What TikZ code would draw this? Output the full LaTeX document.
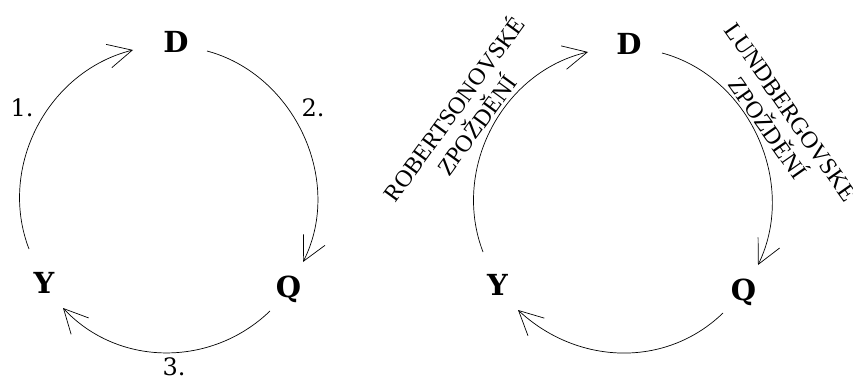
\documentclass[tikz,border=0pt]{standalone}
\usepackage{fontspec}
\setmainfont{DejaVu Serif}
\newfontfamily\lblfont{Liberation Serif}
\usetikzlibrary{arrows.meta}
\begin{document}
\begin{tikzpicture}[x=1pt,y=1pt,
  arr/.style={line width=0.7pt, -{Straight Barb[length=24pt,width=24pt,line width=0.7pt]}},
  letr/.style={font=\fontsize{29}{29}\selectfont\bfseries, anchor=base, inner sep=0pt},
  num/.style={font=\fontsize{24}{24}\selectfont, anchor=base, inner sep=0pt},
  rot/.style={font=\fontsize{24}{28}\selectfont\lblfont, align=center, inner sep=0pt}]
\useasboundingbox (0,0) rectangle (853,378);
% left cycle
\node[letr] (D1) at (176,325) {D};
\node[letr] (Y1) at (44,85) {Y};
\node[letr] (Q1) at (288.5,81) {Q};
\node[num] (n1) at (22,261) {1.};
\node[num] (n2) at (313,261) {2.};
\node[num] (n3) at (174,2.5) {3.};
\coordinate (a1s) at (29,129);
\coordinate (a1e) at (133,328);
\coordinate (a2s) at (207,327);
\coordinate (a2e) at (303,116);
\coordinate (a3s) at (270,67);
\coordinate (a3e) at (63,70);
\draw[arr] (a1s) to[out=111,in=194] (a1e);
\draw[arr] (a2s) to[out=-15,in=63] (a2e);
\draw[arr] (a3s) to[out=224,in=313] (a3e);
% right cycle
\node[letr] (D2) at (629,323) {D};
\node[letr] (Y2) at (497.5,83) {Y};
\node[letr] (Q2) at (743.5,78) {Q};
\coordinate (b1s) at (483,126);
\coordinate (b1e) at (588,326);
\coordinate (b2s) at (662,325);
\coordinate (b2e) at (758,113);
\coordinate (b3s) at (723,65);
\coordinate (b3e) at (518,68);
\draw[arr] (b1s) to[out=111,in=193] (b1e);
\draw[arr] (b2s) to[out=-15,in=64] (b2e);
\draw[arr] (b3s) to[out=224,in=317] (b3e);
\node[rot, rotate=54] (r1) at (464,262) {ROBERTSONOVSKÉ\\ZPOŽDĚNÍ};
\node[rot, rotate=-55] (r2) at (781,259) {LUNDBERGOVSKÉ\\ZPOŽDĚNÍ};
\end{tikzpicture}
\end{document}
